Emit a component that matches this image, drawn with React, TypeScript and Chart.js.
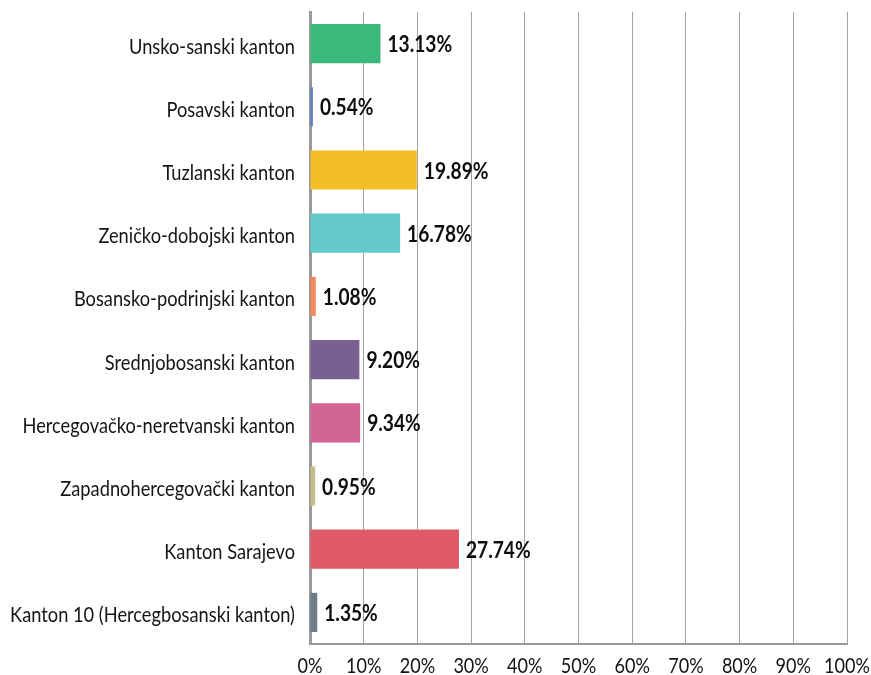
import React, { useEffect, useRef } from "react";
import { Chart, registerables } from "chart.js";

Chart.register(...registerables);

const categories = [
  "Unsko-sanski kanton",
  "Posavski kanton",
  "Tuzlanski kanton",
  "Zeničko-dobojski kanton",
  "Bosansko-podrinjski kanton",
  "Srednjobosanski kanton",
  "Hercegovačko-neretvanski kanton",
  "Zapadnohercegovački kanton",
  "Kanton Sarajevo",
  "Kanton 10 (Hercegbosanski kanton)",
];

const values = [13.13, 0.54, 19.89, 16.78, 1.08, 9.2, 9.34, 0.95, 27.74, 1.35];

const xTickValues = [0, 10, 20, 30, 40, 50, 60, 70, 80, 90, 100];

const barColors = [
  "#3BB87A",
  "#5B7FC4",
  "#F6BD2B",
  "#62C8CB",
  "#F58A5C",
  "#7A6091",
  "#D26596",
  "#C8BD8A",
  "#E05A65",
  "#6F7C86",
];

const FONT = "Lato, 'Open Sans', sans-serif";
const TEXT_COLOR = "#151515";

// draw text compressed horizontally (to mimic a condensed humanist face)
function drawCondensed(
  ctx: CanvasRenderingContext2D,
  text: string,
  x: number,
  y: number,
  font: string,
  sx: number,
  align: "left" | "right" | "center"
) {
  ctx.save();
  ctx.font = font;
  ctx.textAlign = align;
  ctx.textBaseline = "alphabetic";
  ctx.translate(x, y);
  ctx.scale(sx, 1);
  ctx.fillText(text, 0, 0);
  ctx.restore();
}

const textPlugin = {
  id: "condensedText",
  afterDraw(chart: any) {
    const ctx = chart.ctx as CanvasRenderingContext2D;
    const xs = chart.scales.x;
    const ys = chart.scales.y;
    const area = chart.chartArea;
    ctx.save();
    ctx.fillStyle = TEXT_COLOR;
    // category labels
    categories.forEach((c, i) => {
      const y = ys.getPixelForTick(i);
      drawCondensed(ctx, c, area.left - 15, y + 10, `22px ${FONT}`, 0.83, "right");
    });
    // x tick labels
    xTickValues.forEach((v) => {
      const x = xs.getPixelForValue(v);
      drawCondensed(ctx, v + "%", x, area.bottom + 29, `21px ${FONT}`, 0.86, "center");
    });
    // value labels
    const meta = chart.getDatasetMeta(0);
    ctx.fillStyle = "#0d0d0d";
    meta.data.forEach((bar: any, i: number) => {
      drawCondensed(ctx, values[i].toFixed(2) + "%", bar.x + 7, bar.y + 8.5, `bold 22px ${FONT}`, 0.87, "left");
    });
    ctx.restore();
  },
};

export default function App() {
  const canvasRef = useRef<HTMLCanvasElement | null>(null);

  useEffect(() => {
    if (!canvasRef.current) return;
    const chart = new Chart(canvasRef.current, {
      type: "bar",
      data: {
        labels: categories,
        datasets: [
          {
            data: values,
            backgroundColor: barColors,
            borderWidth: 0,
            barPercentage: 0.62,
            categoryPercentage: 1,
          },
        ],
      },
      options: {
        indexAxis: "y",
        responsive: false,
        animation: false,
        layout: { padding: { top: 12, right: 24, left: 0, bottom: 0 } },
        plugins: {
          legend: { display: false },
          tooltip: { enabled: false },
        },
        scales: {
          x: {
            min: 0,
            max: 100,
            ticks: {
              stepSize: 10,
              callback: (v: any) => v + "%",
              color: "rgba(0,0,0,0)",
              font: { family: FONT, size: 18 },
              padding: 9,
              maxRotation: 0,
            },
            grid: { color: "#a3a3a3", lineWidth: 1, drawTicks: false },
            border: { display: true, color: "#9a9a9a", width: 2 },
            afterFit: (scale: any) => {
              scale.height = 31;
              scale.paddingLeft = 0;
              scale.paddingRight = 0;
            },
          },
          y: {
            ticks: {
              color: "rgba(0,0,0,0)",
              font: { family: FONT, size: 18 },
              padding: 14,
              autoSkip: false,
            },
            grid: { display: false, drawTicks: false },
            border: { display: true, color: "#9a9a9a", width: 3 },
            afterFit: (scale: any) => {
              scale.width = 310;
              scale.paddingTop = 0;
              scale.paddingBottom = 0;
            },
          },
        },
      },
      plugins: [textPlugin],
    });
    return () => chart.destroy();
  }, []);

  return (
    <div style={{ position: "absolute", left: 0, top: 0, width: 871, height: 675, background: "#fff" }}>
      <canvas ref={canvasRef} width={871} height={675} style={{ display: "block" }} />
    </div>
  );
}
